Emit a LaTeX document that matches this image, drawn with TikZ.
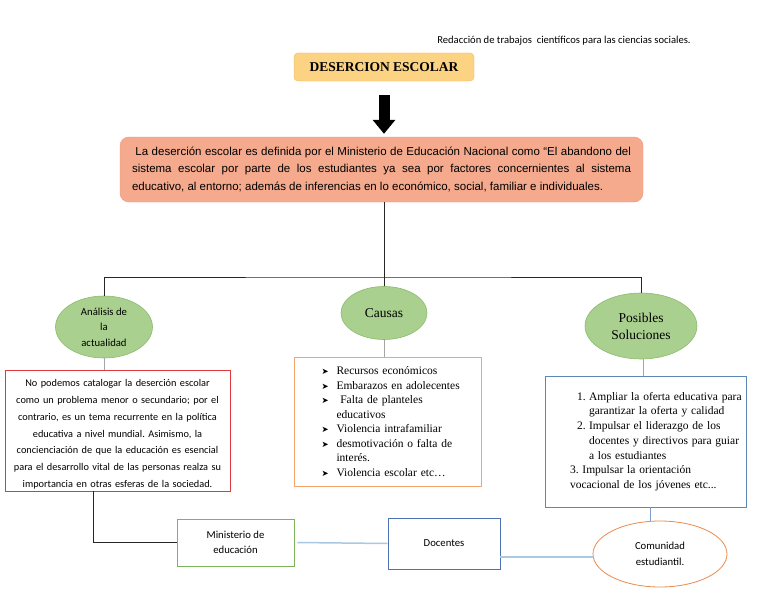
\documentclass[tikz,border=0pt]{standalone}
\usepackage{fontspec}
\setmainfont{Liberation Serif}
\newfontfamily\arialfont{Liberation Sans}
\newfontfamily\calibrifont{Carlito}
\newfontfamily\simbolos{DejaVu Sans}
\usepackage{xcolor}
\usetikzlibrary{arrows.meta,positioning,shapes.geometric,calc}
\frenchspacing

\definecolor{tituloFondo}{HTML}{FCD283}
\definecolor{tituloBorde}{HTML}{F2BA5C}
\definecolor{defFondo}{HTML}{F5AA8E}
\definecolor{defBorde}{HTML}{E8937A}
\definecolor{verdeFondo}{HTML}{A9D08E}
\definecolor{verdeBorde}{HTML}{8CBB6C}
\definecolor{rojoCaja}{HTML}{E0393B}
\definecolor{naranjaCaja}{HTML}{F2A46C}
\definecolor{azulCaja}{HTML}{5C86B8}
\definecolor{verdeCaja}{HTML}{7DB45B}
\definecolor{azulDoc}{HTML}{4E73B5}
\definecolor{naranjaCom}{HTML}{E98A4C}
\definecolor{azulClaro}{HTML}{A8C8E4}

\newcommand{\vineta}{\makebox[15pt][l]{\simbolos\fontsize{8.5}{8.5}\selectfont ➤}}

\begin{document}
\begin{tikzpicture}[x=1pt, y=-1pt,
    elipse/.style={ellipse, draw=verdeBorde, fill=verdeFondo, line width=0.6pt, inner sep=0pt, align=center},
    caja/.style={draw, line width=0.8pt, inner sep=0pt},
    rama/.style={draw=black!85, line width=0.9pt},
    enlace/.style={draw=gray!70, line width=0.8pt},
    puente/.style={draw=azulClaro, line width=1.5pt},
    calibri/.style={font=\calibrifont\fontsize{10.7}{15.5}\selectfont},
    flecha/.style={line width=11pt, -{Triangle[width=22pt, length=14pt]}}
  ]
    \useasboundingbox (0,0) rectangle (768,594);

    \node[font=\calibrifont\fontsize{10.6}{12}\selectfont] (encabezado) at (564,41)
        {Redacción de trabajos\ \ científicos para las ciencias sociales.};

    \node[draw=tituloBorde, fill=tituloFondo, rounded corners=4pt, minimum width=180pt, minimum height=28pt,
          font=\bfseries\fontsize{13.5}{16}\selectfont] (titulo) at (384,67) {DESERCION ESCOLAR};

    \node[draw=defBorde, fill=defFondo, rounded corners=9pt, minimum width=523pt, minimum height=65pt,
          text width=499pt, align=justify, font=\arialfont\fontsize{11.5}{17.5}\selectfont] (definicion) at (381.5,169.5)
        {\ La deserción escolar es definida por el Ministerio de Educación Nacional como “El abandono del\linebreak
         sistema escolar por parte de los estudiantes ya sea por factores concernientes al sistema\linebreak
         educativo, al entorno; además de inferencias en lo económico, social, familiar e individuales.};

    \draw[flecha] ([yshift=-14pt]titulo.south) -- ([yshift=3pt]titulo.south |- definicion.north);

    % ramas
    \node[elipse, minimum width=97pt, minimum height=62pt, calibri] (analisis) at (104,327) {Análisis de\\la\\actualidad};
    \node[elipse, minimum width=86pt, minimum height=53pt, font=\fontsize{13.5}{16}\selectfont] (causas) at (384,313) {Causas};
    \node[elipse, minimum width=112pt, minimum height=66pt, font=\fontsize{13.5}{17}\selectfont] (soluciones) at (641,326) {Posibles\\Soluciones};

    \coordinate (cruce) at (384,277);
    \draw[rama] (definicion.south -| causas.north) -- (causas.north);
    \draw[rama] (analisis.north) |- (cruce) -| (soluciones.north);

    % cajas
    \node[caja, draw=rojoCaja, minimum width=225pt, minimum height=121pt, text width=222pt, align=center,
          font=\calibrifont\fontsize{10.3}{16.8}\selectfont] (actualidad) at (117.5,430.5)
        {\rule{0pt}{15pt}No podemos catalogar la deserción escolar\\
         como un problema menor o secundario; por el\\
         contrario, es un tema recurrente en la política\\
         educativa a nivel mundial. Asimismo, la\\
         concienciación de que la educación es esencial\\
         para el desarrollo vital de las personas realza su\\
         importancia en otras esferas de la sociedad.};

    \node[caja, draw=naranjaCaja, minimum width=187pt, minimum height=129pt, text width=146pt, align=left,
          font=\fontsize{11.5}{14.5}\selectfont] (lista) at (387.5,421.5)
        {\leftskip=7pt
         \vineta Recursos económicos\\
         \vineta Embarazos en adolecentes\\
         \vineta\ Falta de planteles\\
         \hspace*{15pt}educativos\\
         \vineta Violencia intrafamiliar\\
         \vineta desmotivación o falta de\\
         \hspace*{15pt}interés.\\
         \vineta Violencia escolar etc…\par};

    \node[caja, draw=azulCaja, minimum width=201pt, minimum height=131pt, text width=197pt, align=left,
          font=\fontsize{11.5}{14.7}\selectfont] (propuestas) at (645.5,441.5)
        {\leftskip=23pt
         \hspace*{7pt}\makebox[12pt][l]{1.}Ampliar la oferta educativa para\\
         \hspace*{19pt}garantizar la oferta y calidad\\
         \hspace*{7pt}\makebox[12pt][l]{2.}Impulsar el liderazgo de los\\
         \hspace*{19pt}docentes y directivos para guiar\\
         \hspace*{19pt}a los estudiantes\\
         3. Impulsar la orientación\\
         vocacional de los jóvenes etc...\par};

    \draw[enlace] (analisis.south) -- (analisis.south |- actualidad.north);
    \draw[enlace] (causas.south) -- (causas.south |- lista.north);
    \draw[enlace] ([xshift=2pt]soluciones.south) -- ([xshift=2pt]soluciones.south |- propuestas.north);

    % actores
    \node[caja, draw=verdeCaja, minimum width=117pt, minimum height=47pt, align=center, calibri] (ministerio) at (235.5,542.5) {Ministerio de\\educación};
    \node[caja, draw=azulDoc, minimum width=112pt, minimum height=51pt, calibri] (docentes) at (444,543.5) {Docentes};
    \node[ellipse, draw=naranjaCom, line width=0.8pt, minimum width=134pt, minimum height=66pt, inner sep=0pt,
          align=center, calibri] (comunidad) at (660,554) {Comunidad\\estudiantil.};

    \draw[rama] ([xshift=-24.5pt]actualidad.south) |- (ministerio.west);
    \draw[puente] ([xshift=3pt]ministerio.east) -- (docentes.west);
    \draw[puente] ([yshift=-13.5pt]docentes.east) -- ([yshift=-13.5pt]docentes.east -| comunidad.west);
    \draw[draw=azulCaja!80, line width=0.8pt] ([xshift=4.5pt]propuestas.south) -- ([xshift=-10pt]comunidad.north);
\end{tikzpicture}
\end{document}
